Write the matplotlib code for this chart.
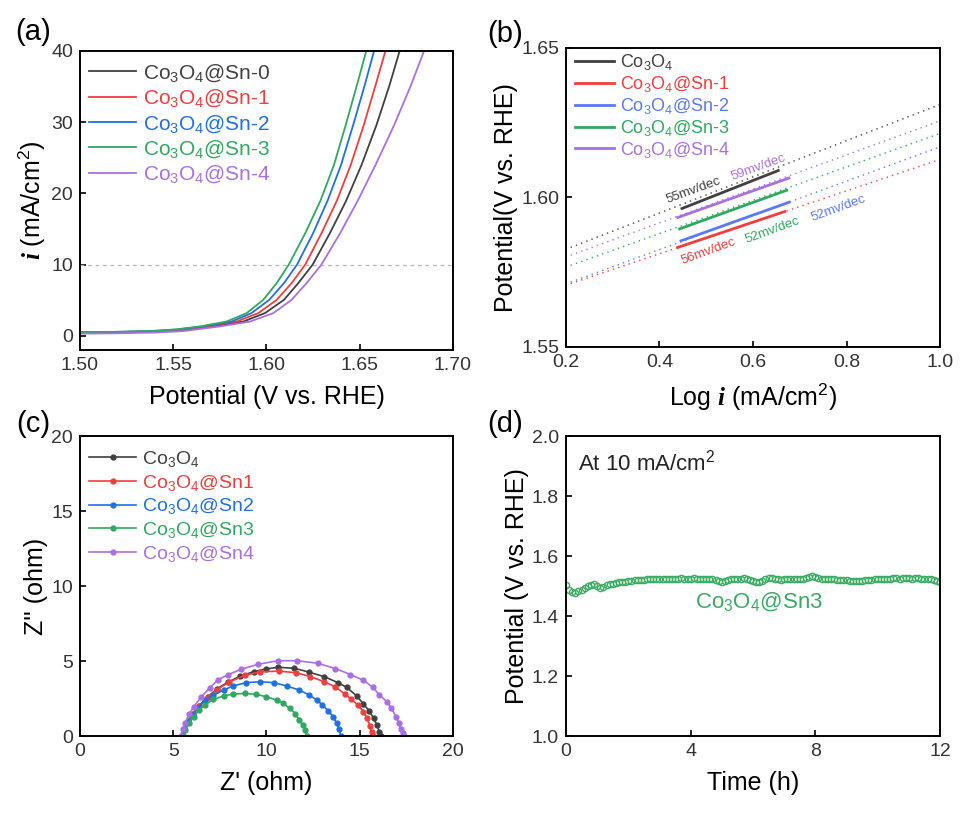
import numpy as np
import matplotlib
matplotlib.use('Agg')
from matplotlib import pyplot as plt

plt.rcParams['font.family'] = ['Liberation Sans', 'DejaVu Sans']
plt.rcParams['mathtext.fontset'] = 'custom'
plt.rcParams['mathtext.rm'] = 'Liberation Sans'
plt.rcParams['mathtext.it'] = 'Liberation Sans:italic'
plt.rcParams['mathtext.bf'] = 'Liberation Sans:bold'
plt.rcParams['mathtext.bfit'] = 'Liberation Serif:italic:bold'

BLACK = '#404040'
RED = '#f23d3d'
BLUE = '#2070e0'
BLUE_B = '#5b78f5'
GREEN = '#30a860'
PURPLE = '#a870e0'

# ---- (a) LSV polarisation curves: potential (V) / current density (mA/cm2)
lsv_labels = ['Co$_3$O$_4$@Sn-0', 'Co$_3$O$_4$@Sn-1', 'Co$_3$O$_4$@Sn-2',
              'Co$_3$O$_4$@Sn-3', 'Co$_3$O$_4$@Sn-4']
lsv_E = [
    [1.500, 1.520, 1.540, 1.554, 1.571, 1.5876, 1.5992, 1.6094, 1.6171, 1.6248, 1.6340, 1.6428, 1.6510, 1.6590, 1.6660, 1.6714],
    [1.500, 1.520, 1.540, 1.553, 1.568, 1.5840, 1.5956, 1.6055, 1.6135, 1.6208, 1.6295, 1.6378, 1.6452, 1.6522, 1.6585, 1.6638],
    [1.500, 1.520, 1.540, 1.552, 1.566, 1.5813, 1.5920, 1.6015, 1.6094, 1.6164, 1.6250, 1.6328, 1.6400, 1.6465, 1.6527, 1.6577],
    [1.500, 1.520, 1.540, 1.552, 1.5643, 1.5786, 1.5894, 1.5983, 1.6055, 1.6120, 1.6208, 1.6290, 1.6362, 1.6425, 1.6485, 1.6535],
    [1.500, 1.520, 1.540, 1.555, 1.575, 1.5912, 1.6037, 1.6135, 1.6215, 1.6295, 1.6395, 1.6490, 1.6585, 1.6685, 1.6775, 1.6845],
]
lsv_j = [
    [0.40, 0.45, 0.58, 0.78, 1.31, 2.0, 3.18, 5.05, 7.4, 10, 14.4, 19.0, 24.0, 29.6, 35.2, 40],
    [0.45, 0.50, 0.62, 0.82, 1.31, 2.0, 3.18, 5.05, 7.4, 10, 14.4, 19.0, 24.0, 29.6, 35.2, 40],
    [0.50, 0.55, 0.68, 0.88, 1.31, 2.0, 3.18, 5.05, 7.4, 10, 14.4, 19.0, 24.0, 29.6, 35.2, 40],
    [0.50, 0.55, 0.70, 0.90, 1.31, 2.0, 3.18, 5.05, 7.4, 10, 14.4, 19.0, 24.0, 29.6, 35.2, 40],
    [0.30, 0.35, 0.45, 0.65, 1.31, 2.0, 3.18, 5.05, 7.4, 10, 14.4, 19.0, 24.0, 29.6, 35.2, 40],
]
lsv_colors = [BLACK, RED, BLUE, GREEN, PURPLE]

# ---- (b) Tafel fits: log i / potential
tafel_labels = ['Co$_3$O$_4$', 'Co$_3$O$_4$@Sn-1', 'Co$_3$O$_4$@Sn-2',
                'Co$_3$O$_4$@Sn-3', 'Co$_3$O$_4$@Sn-4']
tafel_logi = [[0.448, 0.654], [0.439, 0.668], [0.446, 0.677], [0.443, 0.672], [0.439, 0.677]]
tafel_E = [[1.5963, 1.6090], [1.5833, 1.5953], [1.5855, 1.5984], [1.5895, 1.6024], [1.5933, 1.6065]]
fit_logi = [0.21, 1.0]
fit_E = [[1.5833, 1.6311], [1.5712, 1.6127], [1.5717, 1.6169], [1.5773, 1.6214], [1.5807, 1.6256]]
tafel_colors = [BLACK, RED, BLUE_B, GREEN, PURPLE]
slope_text = ['55mv/dec', '56mv/dec', '52mv/dec', '52mv/dec', '59mv/dec']
slope_pos = [(0.472, 1.6024), (0.504, 1.5820), (0.782, 1.5964), (0.641, 1.5890), (0.611, 1.6101)]

# ---- (c) Nyquist plots: Z' / Z'' (ohm)
eis_labels = ['Co$_3$O$_4$', 'Co$_3$O$_4$@Sn1', 'Co$_3$O$_4$@Sn2',
              'Co$_3$O$_4$@Sn3', 'Co$_3$O$_4$@Sn4']
eis_re = [
    [5.5, 5.6, 5.8, 6.05, 6.4, 6.85, 7.35, 7.95, 8.6, 9.35, 10.0, 10.6, 11.5, 12.3, 13.1, 13.85, 14.3, 14.85, 15.2, 15.5, 15.75, 15.92, 16.05, 16.13],
    [5.5, 5.6, 5.8, 6.05, 6.4, 6.85, 7.35, 8.0, 8.85, 9.65, 10.65, 11.6, 12.35, 13.1, 13.7, 14.2, 14.55, 14.9, 15.2, 15.4, 15.55, 15.65, 15.72],
    [5.5, 5.6, 5.8, 6.05, 6.35, 6.7, 7.15, 7.7, 8.2, 8.9, 9.65, 10.4, 11.1, 11.75, 12.3, 12.7, 13.0, 13.3, 13.58, 13.76, 13.9, 13.98],
    [5.55, 5.65, 5.85, 6.1, 6.4, 6.7, 7.15, 7.7, 8.2, 8.85, 9.45, 10.0, 10.55, 10.9, 11.25, 11.55, 11.75, 11.95, 12.07, 12.16],
    [5.4, 5.5, 5.65, 5.85, 6.1, 6.5, 6.95, 7.4, 7.95, 8.65, 9.55, 10.6, 11.65, 12.75, 13.7, 14.5, 15.2, 15.7, 16.05, 16.45, 16.7, 16.95, 17.1, 17.2, 17.3, 17.35],
]
eis_im = [
    [0.0, 0.5, 1.0, 1.5, 2.0, 2.6, 3.15, 3.6, 4.0, 4.3, 4.48, 4.58, 4.52, 4.25, 3.96, 3.55, 3.24, 2.67, 2.13, 1.7, 1.18, 0.73, 0.3, 0.0],
    [0.0, 0.5, 1.0, 1.5, 2.0, 2.6, 3.1, 3.6, 4.05, 4.28, 4.33, 4.22, 3.96, 3.62, 3.28, 2.8, 2.45, 2.07, 1.62, 1.18, 0.65, 0.25, 0.0],
    [0.0, 0.45, 0.95, 1.4, 1.9, 2.4, 2.73, 3.07, 3.33, 3.56, 3.62, 3.56, 3.33, 3.07, 2.73, 2.4, 2.07, 1.69, 1.29, 0.85, 0.5, 0.0],
    [0.0, 0.4, 0.85, 1.3, 1.75, 2.07, 2.44, 2.67, 2.8, 2.84, 2.78, 2.62, 2.4, 2.18, 1.84, 1.5, 1.1, 0.72, 0.4, 0.0],
    [0.0, 0.45, 0.9, 1.45, 1.95, 2.6, 3.2, 3.75, 4.1, 4.45, 4.78, 5.02, 5.02, 4.85, 4.5, 4.1, 3.72, 3.25, 2.75, 2.3, 1.85, 1.3, 0.9, 0.5, 0.2, 0.0],
]
eis_colors = [BLACK, RED, BLUE, GREEN, PURPLE]

# ---- (d) chronopotentiometry at 10 mA/cm2
stab_t = np.round(np.arange(0, 12.01, 0.1), 1)
stab_E = [
    1.505, 1.488, 1.480, 1.478, 1.482, 1.488, 1.495, 1.500, 1.505, 1.508,
    1.500, 1.494, 1.498, 1.503, 1.507, 1.508, 1.510, 1.512, 1.513, 1.515,
    1.516, 1.518, 1.519, 1.520, 1.521, 1.521, 1.522, 1.523, 1.522, 1.523,
    1.524, 1.523, 1.524, 1.525, 1.524, 1.524, 1.525, 1.526, 1.525, 1.524,
    1.525, 1.526, 1.525, 1.524, 1.523, 1.522, 1.523, 1.522, 1.520, 1.517,
    1.514, 1.516, 1.520, 1.524, 1.525, 1.524, 1.525, 1.526, 1.524, 1.520,
    1.516, 1.514, 1.515, 1.518, 1.522, 1.526, 1.527, 1.525, 1.522, 1.521,
    1.522, 1.523, 1.522, 1.523, 1.524, 1.524, 1.525, 1.527, 1.530, 1.532,
    1.530, 1.527, 1.525, 1.524, 1.523, 1.523, 1.522, 1.521, 1.520, 1.519,
    1.519, 1.518, 1.518, 1.517, 1.517, 1.518, 1.519, 1.520, 1.521, 1.522,
    1.523, 1.524, 1.524, 1.525, 1.525, 1.526, 1.526, 1.525, 1.526, 1.527,
    1.526, 1.525, 1.526, 1.526, 1.525, 1.524, 1.524, 1.523, 1.520, 1.516,
    1.514,
]


def style_axis(ax):
    for s in ax.spines.values():
        s.set_linewidth(1.4)
    ax.tick_params(direction='in', length=4, width=1.2, labelsize=14,
                   labelcolor='#333333', pad=5, top=False, right=False)


fig = plt.figure(figsize=(9.67, 8.17), dpi=100)

# (a)
ax = fig.add_axes([0.0827, 0.5716, 0.3857, 0.366])
style_axis(ax)
ax.axhline(10, color='#b5b5b5', lw=0.9, ls=(0, (3, 3)))
for E, j, c, lab in zip(lsv_E, lsv_j, lsv_colors, lsv_labels):
    ax.plot(E, j, color=c, lw=1.3, label=lab)
ax.set_xlim(1.50, 1.70)
ax.set_ylim(-2, 40)
ax.set_xticks([1.50, 1.55, 1.60, 1.65, 1.70])
ax.set_xticklabels(['1.50', '1.55', '1.60', '1.65', '1.70'])
ax.set_yticks([0, 10, 20, 30, 40])
ax.set_xlabel('Potential (V vs. RHE)', fontsize=18, labelpad=8)
ax.set_ylabel(r'$\mathbfit{i}$ (mA/cm$^2$)', fontsize=18, labelpad=2)
ax.legend(loc='upper left', bbox_to_anchor=(0.025, 0.962), frameon=False, fontsize=15,
          handlelength=2.25, handletextpad=0.35, labelspacing=0.18, borderpad=0,
          borderaxespad=0, labelcolor='linecolor')

# (b)
ax = fig.add_axes([0.5853, 0.5753, 0.3868, 0.366])
style_axis(ax)
for E, c in zip(fit_E, tafel_colors):
    ax.plot(fit_logi, E, color=c, lw=1.0, ls=(0, (1, 3)))
for x, E, c, lab in zip(tafel_logi, tafel_E, tafel_colors, tafel_labels):
    ax.plot(x, E, color=c, lw=2.0, label=lab)
for (x, y), t, c in zip(slope_pos, slope_text, tafel_colors):
    ax.text(x, y, t, color=c, fontsize=9.5, rotation=20, ha='center', va='center')
ax.set_xlim(0.2, 1.0)
ax.set_ylim(1.55, 1.65)
ax.set_xticks([0.2, 0.4, 0.6, 0.8, 1.0])
ax.set_xticklabels(['0.2', '0.4', '0.6', '0.8', '1.0'])
ax.set_yticks([1.55, 1.60, 1.65])
ax.set_yticklabels(['1.55', '1.60', '1.65'])
ax.set_xlabel(r'Log $\mathbfit{i}$ (mA/cm$^2$)', fontsize=18, labelpad=8)
ax.set_ylabel('Potential(V vs. RHE)', fontsize=18, labelpad=2)
ax.legend(loc='upper left', bbox_to_anchor=(0.025, 0.985), frameon=False, fontsize=13,
          handlelength=2.15, handletextpad=0.35, labelspacing=0.1, borderpad=0,
          borderaxespad=0, labelcolor='linecolor')

# (c)
ax = fig.add_axes([0.0827, 0.0991, 0.3857, 0.3672])
style_axis(ax)
for x, y, c, lab in zip(eis_re, eis_im, eis_colors, eis_labels):
    ax.plot(x, y, color=c, lw=1.2, marker='o', ms=3.5, mec=c, mfc=c, label=lab)
ax.set_xlim(0, 20)
ax.set_ylim(0, 20)
ax.set_xticks([0, 5, 10, 15, 20])
ax.set_yticks([0, 5, 10, 15, 20])
ax.set_xlabel("Z' (ohm)", fontsize=18, labelpad=8)
ax.set_ylabel("Z'' (ohm)", fontsize=18, labelpad=2)
ax.legend(loc='upper left', bbox_to_anchor=(0.025, 0.958), frameon=False, fontsize=14,
          handlelength=2.4, handletextpad=0.3, labelspacing=0.2, borderpad=0,
          borderaxespad=0, labelcolor='linecolor', numpoints=1)

# (d)
ax = fig.add_axes([0.5853, 0.0991, 0.3868, 0.3672])
style_axis(ax)
ax.plot(stab_t, stab_E, ls='none', marker='o', ms=4.5, mfc='none', mec='#3aab62', mew=1.0)
ax.text(0.033, 0.911, 'At 10 mA/cm$^2$', transform=ax.transAxes, fontsize=16,
        ha='left', va='center', color='#222222')
ax.text(6.2, 1.445, 'Co$_3$O$_4$@Sn3', color='#3aab62', fontsize=16, ha='center', va='center')
ax.set_xlim(0, 12)
ax.set_ylim(1.0, 2.0)
ax.set_xticks([0, 4, 8, 12])
ax.set_yticks([1.0, 1.2, 1.4, 1.6, 1.8, 2.0])
ax.set_yticklabels(['1.0', '1.2', '1.4', '1.6', '1.8', '2.0'])
ax.set_xlabel('Time (h)', fontsize=18, labelpad=8)
ax.set_ylabel('Potential (V vs. RHE)', fontsize=18, labelpad=2)

for lab, x, y in [('(a)', 0.034, 0.961), ('(b)', 0.522, 0.958),
                  ('(c)', 0.034, 0.481), ('(d)', 0.522, 0.481)]:
    fig.text(x, y, lab, fontsize=21, ha='center', va='center')

fig.savefig('out.png', dpi=100)
